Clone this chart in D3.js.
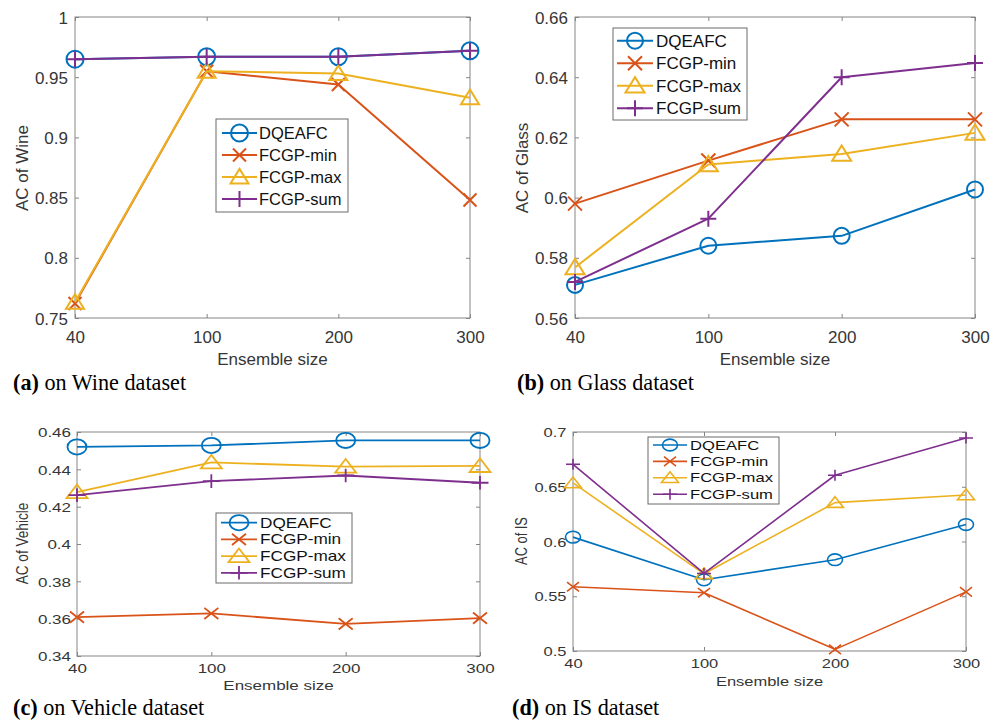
<!DOCTYPE html>
<html><head><meta charset="utf-8">
<script src="https://cdn.jsdelivr.net/npm/d3@7"></script>
<style>body{margin:0;background:#fff} svg{display:block}</style>
</head><body><svg id="chart" width="1003" height="720"></svg>
<script>
// ---------- data ----------
const sizes = ["40", "100", "200", "300"];
const methods = ["DQEAFC", "FCGP-min", "FCGP-max", "FCGP-sum"];
const methodColors = ["#0072BD", "#D95319", "#EDB120", "#7E2F8E"];
const methodMarkers = ["circle", "cross", "triangle", "plus"];

const wineDQEAFC = [0.965, 0.967, 0.967, 0.972];
const wineMin    = [0.762, 0.955, 0.944, 0.848];
const wineMax    = [0.763, 0.955, 0.953, 0.933];
const wineSum    = [0.965, 0.967, 0.967, 0.972];
const wineTicks  = [0.75, 0.8, 0.85, 0.9, 0.95, 1];

const glassDQEAFC = [0.571, 0.584, 0.5873, 0.6027];
const glassMin    = [0.598, 0.6123, 0.626, 0.626];
const glassMax    = [0.5768, 0.611, 0.6145, 0.6215];
const glassSum    = [0.572, 0.593, 0.640, 0.6447];
const glassTicks  = [0.56, 0.58, 0.6, 0.62, 0.64, 0.66];

const vehicleDQEAFC = [0.452, 0.4528, 0.4555, 0.4555];
const vehicleMin    = [0.3608, 0.3628, 0.3572, 0.3603];
const vehicleMax    = [0.4278, 0.4437, 0.4415, 0.4418];
const vehicleSum    = [0.4262, 0.4337, 0.4367, 0.4328];
const vehicleTicks  = [0.34, 0.36, 0.38, 0.4, 0.42, 0.44, 0.46];

const isDQEAFC = [0.604, 0.565, 0.5834, 0.6155];
const isMin    = [0.5587, 0.5532, 0.5015, 0.554];
const isMax    = [0.6535, 0.5705, 0.6355, 0.6425];
const isSum    = [0.6705, 0.5708, 0.6605, 0.6945];
const isTicks  = [0.5, 0.55, 0.6, 0.65, 0.7];

// ---------- layout ----------
const panels = [
  { series: [wineDQEAFC, wineMin, wineMax, wineSum], ticks: wineTicks, yLabel: "AC of Wine",
    capBold: "(a)", capText: " on Wine dataset",
    box: {l: 75, r: 470, t: 17, b: 318}, fs: 17, sy: 1, xTickBase: 343, xLabelBase: 364.5, yTickPad: 7,
    yLabelX: 28, yLabelY: 168, capX: 13, capY: 390,
    legend: {x0: 216, x1: 348, y0: 119, y1: 212, lx0: 222, lx1: 257, tx: 259, ey0: 133, estep: 22, fs: 16.5},
    mk: {r: 8.5, tri: 9, cross: 6.5, plus: 8}, lw: 2 },
  { series: [glassDQEAFC, glassMin, glassMax, glassSum], ticks: glassTicks, yLabel: "AC of Glass",
    capBold: "(b)", capText: " on Glass dataset",
    box: {l: 575, r: 975, t: 17, b: 318}, fs: 17, sy: 1, xTickBase: 343, xLabelBase: 364.5, yTickPad: 7,
    yLabelX: 528, yLabelY: 168, capX: 517, capY: 390,
    legend: {x0: 613, x1: 747, y0: 28, y1: 120, lx0: 617, lx1: 653, tx: 656, ey0: 40.7, estep: 22.5, fs: 17},
    mk: {r: 8, tri: 9.5, cross: 7, plus: 8}, lw: 2 },
  { series: [vehicleDQEAFC, vehicleMin, vehicleMax, vehicleSum], ticks: vehicleTicks, yLabel: "AC of Vehicle",
    capBold: "(c)", capText: " on Vehicle dataset",
    box: {l: 77, r: 480, t: 432, b: 656}, fs: 17, sy: 0.8, xTickBase: 673, xLabelBase: 690, yTickPad: 6,
    yLabelX: 28, yLabelY: 543.5, capX: 13, capY: 715,
    legend: {x0: 216, x1: 352, y0: 513, y1: 583, lx0: 221, lx1: 257, tx: 260, ey0: 522.7, estep: 16.7, fs: 17.2},
    mk: {r: 9.5, tri: 10.5, cross: 7, plus: 8.5}, lw: 1.8 },
  { series: [isDQEAFC, isMin, isMax, isSum], ticks: isTicks, yLabel: "AC of IS",
    capBold: "(d)", capText: " on IS dataset",
    box: {l: 573, r: 966, t: 432, b: 651}, fs: 16.5, sy: 0.78, xTickBase: 668, xLabelBase: 686, yTickPad: 6.5,
    yLabelX: 527, yLabelY: 541, capX: 512, capY: 715,
    legend: {x0: 648, x1: 779, y0: 437, y1: 504, lx0: 653, lx1: 687, tx: 690, ey0: 445, estep: 16.4, fs: 16.6},
    mk: {r: 7.5, tri: 8.5, cross: 6, plus: 7}, lw: 1.6 }
];

const svg = d3.select("#chart");
const FONT = "Arial, 'Liberation Sans', sans-serif";
const TEXTC = "#363636";
const AXC = "#858585";
const fmt = d => String(+d.toFixed(2));

function drawMarker(parent, x, y, type, mk, sy, color, lw) {
  const g = parent.append("g").attr("transform", `translate(${x},${y}) scale(1,${sy})`)
    .attr("fill", "none").attr("stroke", color).attr("stroke-width", lw);
  if (type === "circle") {
    g.append("circle").attr("r", mk.r).attr("vector-effect", "non-scaling-stroke");
  } else if (type === "triangle") {
    const w = mk.tri;
    g.append("path").attr("d", `M0,${-w * 0.9}L${w},${w * 0.72}L${-w},${w * 0.72}Z`)
      .attr("vector-effect", "non-scaling-stroke");
  } else if (type === "cross") {
    const c = mk.cross;
    g.append("path").attr("d", `M${-c},${-c}L${c},${c}M${-c},${c}L${c},${-c}`)
      .attr("vector-effect", "non-scaling-stroke");
  } else {
    const p = mk.plus;
    g.append("path").attr("d", `M${-p},0L${p},0M0,${-p}L0,${p}`)
      .attr("vector-effect", "non-scaling-stroke");
  }
}

panels.forEach(P => {
  const B = P.box;
  const x = d3.scalePoint().domain(sizes).range([B.l, B.r]);
  const y = d3.scaleLinear().domain(d3.extent(P.ticks)).range([B.b, B.t]);
  const g = svg.append("g");

  // box
  g.append("rect").attr("x", B.l).attr("y", B.t).attr("width", B.r - B.l).attr("height", B.b - B.t)
    .attr("fill", "#fff").attr("stroke", AXC).attr("stroke-width", 1);

  // axes (inward ticks on all sides)
  const capH = P.fs * 0.716 * P.sy;
  const left = g.append("g").attr("transform", `translate(${B.l},0)`)
    .call(d3.axisLeft(y).tickValues(P.ticks).tickFormat(fmt).tickSizeInner(-4).tickSizeOuter(0).tickPadding(P.yTickPad));
  left.select(".domain").remove();
  left.selectAll("line").attr("stroke", AXC);
  left.selectAll("text").attr("x", null).attr("dy", null).attr("fill", TEXTC)
    .attr("font-family", FONT).attr("font-size", P.fs).attr("text-anchor", "end")
    .attr("transform", `translate(${-P.yTickPad},${capH / 2}) scale(1,${P.sy})`);

  const right = g.append("g").attr("transform", `translate(${B.r},0)`)
    .call(d3.axisRight(y).tickValues(P.ticks).tickFormat("").tickSizeInner(-4).tickSizeOuter(0));
  right.select(".domain").remove();
  right.selectAll("line").attr("stroke", AXC);

  const bottom = g.append("g").attr("transform", `translate(0,${B.b})`)
    .call(d3.axisBottom(x).tickSizeInner(-4).tickSizeOuter(0));
  bottom.select(".domain").remove();
  bottom.selectAll("line").attr("stroke", AXC);
  bottom.selectAll("text").attr("y", null).attr("dy", null).attr("fill", TEXTC)
    .attr("font-family", FONT).attr("font-size", P.fs).attr("text-anchor", "middle")
    .attr("transform", `translate(0,${P.xTickBase - B.b}) scale(1,${P.sy})`);

  const top = g.append("g").attr("transform", `translate(0,${B.t})`)
    .call(d3.axisTop(x).tickSizeInner(-4).tickSizeOuter(0).tickFormat(""));
  top.select(".domain").remove();
  top.selectAll("line").attr("stroke", AXC);

  // axis labels
  g.append("text").attr("transform", `translate(${(B.l + B.r) / 2},${P.xLabelBase}) scale(1,${P.sy})`)
    .attr("text-anchor", "middle").attr("font-family", FONT).attr("font-size", P.fs).attr("fill", TEXTC)
    .text("Ensemble size");
  g.append("text").attr("transform", `translate(${P.yLabelX},${P.yLabelY}) scale(1,${P.sy}) rotate(-90)`)
    .attr("text-anchor", "middle").attr("font-family", FONT).attr("font-size", P.fs).attr("fill", TEXTC)
    .text(P.yLabel);

  // series
  const line = d3.line().x((d, i) => x(sizes[i])).y(d => y(d));
  P.series.forEach((vals, si) => {
    g.append("path").datum(vals).attr("d", line).attr("fill", "none")
      .attr("stroke", methodColors[si]).attr("stroke-width", P.lw).attr("stroke-linejoin", "round");
    vals.forEach((v, i) => drawMarker(g, x(sizes[i]), y(v), methodMarkers[si], P.mk, P.sy, methodColors[si], P.lw));
  });

  // legend
  const L = P.legend;
  g.append("rect").attr("x", L.x0).attr("y", L.y0).attr("width", L.x1 - L.x0).attr("height", L.y1 - L.y0)
    .attr("fill", "#fff").attr("stroke", "#6a6a6a").attr("stroke-width", 1);
  methods.forEach((m, i) => {
    const ey = L.ey0 + i * L.estep;
    g.append("line").attr("x1", L.lx0).attr("x2", L.lx1).attr("y1", ey).attr("y2", ey)
      .attr("stroke", methodColors[i]).attr("stroke-width", P.lw);
    drawMarker(g, (L.lx0 + L.lx1) / 2, ey, methodMarkers[i], P.mk, P.sy, methodColors[i], P.lw);
    g.append("text").attr("transform", `translate(${L.tx},${ey + L.fs * 0.716 * P.sy / 2}) scale(1,${P.sy})`)
      .attr("font-family", FONT).attr("font-size", L.fs).attr("fill", "#111").text(m);
  });

  // caption
  const cap = g.append("text").attr("x", P.capX).attr("y", P.capY)
    .attr("font-family", "'Times New Roman', 'Liberation Serif', serif").attr("font-size", 22.2).attr("fill", "#000");
  cap.append("tspan").attr("font-weight", "bold").text(P.capBold);
  cap.append("tspan").text(P.capText);
});
</script>
</body></html>
